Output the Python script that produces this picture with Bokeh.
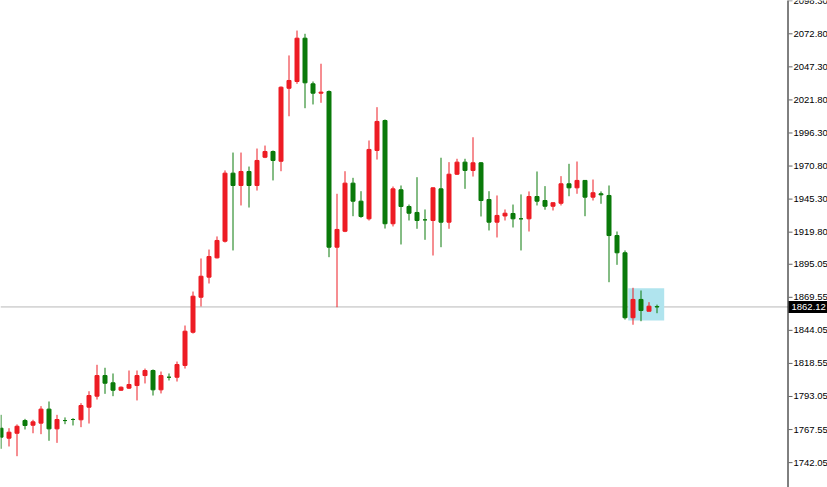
from bokeh.plotting import figure
from bokeh.models import ColumnDataSource, Span, Range1d
from bokeh.core.properties import value
from bokeh.embed import file_html
from bokeh.resources import INLINE

# ---- data ----
opens = [1768.6, 1760.9, 1764.7, 1774.5, 1770.9, 1772.5, 1783.3, 1768.1, 1774.5, 1775.3,
         1775.1, 1784.8, 1793.3, 1809.2, 1803.6, 1797.9, 1799.5, 1801.5, 1809.2, 1813.1,
         1798.2, 1807.9, 1807.9, 1817.0, 1842.6, 1869.6, 1885.1, 1900.0, 1912.8, 1965.3,
         1955.8, 1966.6, 1955.8, 1977.6, 1982.0, 1974.5, 2030.8, 2036.0, 2069.4, 2034.2,
         2027.0, 2028.3, 1908.2, 1920.5, 1957.6, 1943.7, 1930.1, 1982.8, 2005.9, 1926.3,
         1952.5, 1939.6, 1935.0, 1929.3, 1928.8, 1953.2, 1927.5, 1964.5, 1973.8, 1967.4,
         1973.3, 1945.0, 1927.5, 1932.3, 1934.2, 1930.1, 1930.1, 1947.3, 1944.2, 1939.8,
         1942.1, 1957.1, 1954.0, 1959.7, 1946.8, 1949.4, 1948.1, 1917.2, 1903.9, 1853.8,
         1867.9, 1858.8, 1862.4]
highs = [1778.9, 1768.6, 1771.5, 1775.8, 1775.1, 1785.6, 1789.2, 1778.9, 1776.9, 1776.3,
         1787.9, 1797.1, 1817.5, 1815.2, 1810.8, 1800.8, 1813.1, 1813.1, 1814.6, 1813.9,
         1812.3, 1810.8, 1820.0, 1847.8, 1874.0, 1899.5, 1906.4, 1916.5, 1967.4, 1981.2,
         1981.2, 1970.4, 1984.3, 1986.6, 1982.8, 2032.2, 2056.1, 2075.3, 2072.8, 2036.0,
         2049.7, 2029.1, 1949.4, 1966.8, 1961.7, 1951.4, 1990.5, 2016.2, 2006.7, 1955.0,
         1955.8, 1941.1, 1962.2, 1937.3, 1954.3, 1977.2, 1973.8, 1976.4, 1976.4, 1993.0,
         1973.9, 1951.4, 1948.1, 1937.3, 1941.1, 1948.9, 1951.2, 1966.6, 1955.3, 1942.7,
         1963.0, 1972.5, 1974.3, 1960.0, 1960.4, 1951.2, 1955.8, 1920.3, 1905.7, 1876.9,
         1874.8, 1865.8, 1863.9]
lows = [1752.7, 1754.5, 1747.0, 1767.6, 1764.7, 1764.0, 1758.9, 1757.3, 1771.7, 1770.7,
        1769.4, 1772.2, 1790.7, 1795.1, 1793.3, 1797.4, 1798.8, 1790.0, 1803.1, 1793.8,
        1795.4, 1805.4, 1804.6, 1814.6, 1841.6, 1862.5, 1880.2, 1899.5, 1911.8, 1905.7,
        1940.4, 1938.8, 1951.9, 1976.9, 1959.7, 1966.8, 2009.2, 2034.2, 2015.4, 2018.3,
        2019.6, 1900.5, 1861.9, 1919.8, 1932.1, 1930.9, 1928.8, 1975.8, 1922.6, 1924.2,
        1910.3, 1928.8, 1922.4, 1913.9, 1901.8, 1908.2, 1922.4, 1963.9, 1953.2, 1962.7,
        1931.9, 1921.1, 1915.7, 1928.8, 1923.4, 1905.7, 1920.3, 1940.4, 1937.1, 1936.5,
        1940.4, 1947.5, 1949.4, 1932.1, 1944.2, 1941.7, 1881.2, 1894.6, 1852.4, 1848.4,
        1851.1, 1858.8, 1857.3]
closes = [1761.7, 1765.5, 1770.1, 1770.7, 1773.5, 1783.3, 1768.1, 1775.3, 1774.5, 1775.3,
          1786.1, 1793.8, 1809.2, 1803.3, 1797.9, 1800.2, 1802.3, 1809.2, 1813.1, 1798.2,
          1809.2, 1807.9, 1817.7, 1843.4, 1870.4, 1885.8, 1901.0, 1913.4, 1965.3, 1955.8,
          1966.6, 1955.8, 1975.1, 1982.0, 1975.1, 2031.6, 2036.8, 2069.4, 2035.0, 2027.0,
          2027.8, 1908.2, 1921.9, 1957.6, 1943.7, 1931.9, 1983.6, 2005.2, 1926.3, 1953.2,
          1939.6, 1934.4, 1928.8, 1929.3, 1954.0, 1927.5, 1964.5, 1973.8, 1967.4, 1973.3,
          1944.2, 1927.5, 1932.7, 1934.4, 1930.1, 1930.1, 1947.3, 1943.7, 1939.8, 1942.5,
          1957.1, 1954.0, 1959.7, 1946.8, 1950.2, 1948.6, 1917.2, 1903.9, 1853.8, 1867.9,
          1859.4, 1862.7, 1862.12]

tick_values = [2098.30, 2072.80, 2047.30, 2021.80, 1996.30, 1970.80, 1945.30, 1919.80,
               1895.05, 1869.55, 1844.05, 1818.55, 1793.05, 1767.55, 1742.05]
tick_labels = ["2098.30", "2072.80", "2047.30", "2021.80", "1996.30", "1970.80", "1945.30",
               "1919.80", "1895.05", "1869.55", "1844.05", "1818.55", "1793.05", "1767.55",
               "1742.05"]
current_price = 1862.12
current_label = "1862.12"
zone_start, zone_end = 78.4, 82.9       # candle index span of highlight box
zone_low, zone_high = 1851.7, 1876.6    # price span of highlight box

UP = "#ed1c24"     # rising candle (red)
DOWN = "#0a7a0a"   # falling candle (green)
FONT = value("Liberation Sans")

idx = list(range(len(opens)))
colors = [UP if c > o else DOWN for o, c in zip(opens, closes)]
src = ColumnDataSource(dict(
    x=idx, high=highs, low=lows,
    top=[max(o, c) for o, c in zip(opens, closes)],
    bottom=[min(o, c) for o, c in zip(opens, closes)],
    color=colors))

# layout: 827x487 canvas, 8 px per candle, price axis drawn at the right
W, H = 827, 487
PX_PER_BAR = 8
Y_LO, Y_HI = 1722.86, 2098.48
x0 = -0.5 / PX_PER_BAR
PY = H / (Y_HI - Y_LO)          # pixels per price unit


def px(xpix):
    """horizontal canvas pixel -> x data coordinate"""
    return x0 + xpix / PX_PER_BAR


p = figure(frame_width=W, frame_height=H,
           x_range=Range1d(x0, px(W)), y_range=Range1d(Y_LO, Y_HI),
           output_backend="svg", toolbar_location=None,
           x_axis_location=None, y_axis_location=None, min_border=0)
p.background_fill_color = "white"
p.border_fill_color = "white"
p.outline_line_color = None
p.grid.visible = False

# current price line and highlight zone
p.add_layout(Span(location=current_price, dimension="width", line_color="#b8b8b8",
                  line_width=1, level="underlay"))
p.quad(left=[zone_start], right=[zone_end], bottom=[zone_low], top=[zone_high],
       fill_color="#b0e4ee", line_color=None)

# candles
p.segment(x0="x", y0="low", x1="x", y1="high", color="color", line_width=1, source=src)
p.vbar(x="x", top="top", bottom="bottom", width=0.5, fill_color="color",
       line_color="color", line_width=1, source=src)

# white panel behind price scale (hides price line right of the axis)
p.quad(left=[px(787.5)], right=[px(W + 2)], bottom=[Y_LO - 5], top=[Y_HI + 5],
       fill_color="white", line_color=None)

# price axis
p.segment(x0=[px(787.5)], x1=[px(787.5)], y0=[Y_LO - 5], y1=[Y_HI + 5],
          line_color="black", line_width=1)
p.segment(x0=[px(788)] * len(tick_values), x1=[px(792)] * len(tick_values),
          y0=tick_values, y1=tick_values, line_color="#666666", line_width=1)
p.text(x=[px(793)] * len(tick_values), y=tick_values, text=tick_labels,
       text_font=FONT, text_font_size=value("9.5px"), text_color="black",
       text_align="left", text_baseline="middle")

# current price tag
p.quad(left=[px(788)], right=[px(W + 2)],
       bottom=[current_price - 6 / PY], top=[current_price + 6 / PY],
       fill_color="black", line_color=None)
p.text(x=[px(791)], y=[current_price], text=[current_label],
       text_font=FONT, text_font_size=value("9.5px"), text_color="white",
       text_align="left", text_baseline="middle")

open("out.html", "w").write(file_html(p, INLINE))
